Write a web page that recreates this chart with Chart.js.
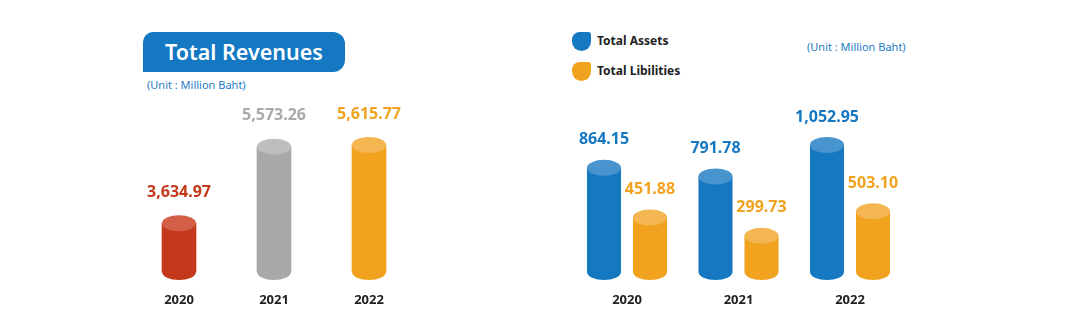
<!DOCTYPE html>
<html>
<head>
<meta charset="utf-8">
<script src="https://cdn.jsdelivr.net/npm/chart.js@4/dist/chart.umd.min.js"></script>
<style>
  html, body { margin: 0; padding: 0; background: #fff; overflow: hidden; }
  body { width: 1081px; height: 324px; position: relative; font-family: "Noto Sans", sans-serif; }
  canvas { position: absolute; top: 0; }
  .title { position: absolute; left: 143px; top: 32px; width: 202px; height: 40px; background: #1479c2;
           border-radius: 10px 12px 12px 0; color: #fff; font-size: 21.5px; font-weight: 600;
           line-height: 40px; text-align: center; }
  .unit { position: absolute; color: #1c7cc4; font-size: 11px; white-space: nowrap; }
  .leg { position: absolute; left: 572px; font-size: 12px; font-weight: 700; color: #222; white-space: nowrap; }
  .leg i { display: inline-block; width: 19px; height: 19px; border-radius: 8px 3px 10px 10px;
           vertical-align: middle; margin-right: 6px; }
</style>
</head>
<body>
<div class="title">Total Revenues</div>
<div class="unit" style="left:147px; top:77px;">(Unit : Million Baht)</div>
<div class="unit" style="left:807px; top:39px;">(Unit : Million Baht)</div>
<div class="leg" style="top:32px;"><i style="background:#1578c1"></i>Total Assets</div>
<div class="leg" style="top:62px;"><i style="background:#f1a31f"></i>Total Libilities</div>

<canvas id="revChart" width="540" height="324" style="left:0"></canvas>
<canvas id="balChart" width="541" height="324" style="left:540px"></canvas>

<script>
// data
const years = ["2020", "2021", "2022"];
const revenues = [3634.97, 5573.26, 5615.77];
const totalAssets = [864.15, 791.78, 1052.95];
const totalLiabilities = [451.88, 299.73, 503.10];

const fmt = v => v.toLocaleString("en-US", { minimumFractionDigits: 2, maximumFractionDigits: 2 });

// draws the round top/bottom of each bar plus the value above it
const cylinders = {
    id: "cylinders",
    afterDatasetsDraw(chart, args, opts) {
        const ctx = chart.ctx;
        chart.data.datasets.forEach((ds, di) => {
            chart.getDatasetMeta(di).data.forEach((bar, i) => {
                const body = Array.isArray(ds.backgroundColor) ? ds.backgroundColor[i] : ds.backgroundColor;
                const top = Array.isArray(ds.topColor) ? ds.topColor[i] : ds.topColor;
                const rx = bar.width / 2, ry = 8;
                const base = Math.min(bar.base, chart.chartArea.bottom);
                ctx.save();
                ctx.fillStyle = body;
                ctx.beginPath();
                ctx.ellipse(bar.x, base, rx, ry, 0, 0, Math.PI);
                ctx.fill();
                ctx.fillStyle = top;
                ctx.beginPath();
                ctx.ellipse(bar.x, bar.y, rx, ry, 0, 0, Math.PI * 2);
                ctx.fill();
                ctx.fillStyle = body;
                ctx.font = "bold 16px 'Noto Sans'";
                ctx.textAlign = "center";
                ctx.textBaseline = "middle";
                ctx.fillText(fmt(ds.data[i]), bar.x, bar.y - opts.offset);
                ctx.restore();
            });
        });
    }
};

const xAxis = {
    grid: { display: false, drawTicks: false },
    border: { display: false },
    ticks: { color: "#222", padding: 20, font: { family: "Noto Sans", size: 13, weight: "bold" } },
    afterFit: s => { s.height = 44; }
};

new Chart(document.getElementById("revChart"), {
    type: "bar",
    data: {
        labels: years,
        datasets: [{
            label: "Total Revenues",
            data: revenues,
            backgroundColor: ["#c4391c", "#a9a9ab", "#f1a31f"],
            topColor: ["#d45f47", "#bdbdbf", "#f4b651"],
            barThickness: 34
        }]
    },
    options: {
        responsive: false,
        animation: false,
        layout: { padding: { left: 131.5, right: 123.5, top: 129.8, bottom: 8 } },
        plugins: { legend: { display: false }, tooltip: { enabled: false }, cylinders: { offset: 31 } },
        scales: {
            x: xAxis,
            y: { display: false, min: 2400, max: 6000 }
        }
    },
    plugins: [cylinders]
});

new Chart(document.getElementById("balChart"), {
    type: "bar",
    data: {
        labels: years,
        datasets: [{
            label: "Total Assets",
            data: totalAssets,
            backgroundColor: "#1578c1",
            topColor: "#4794cf"
        }, {
            label: "Total Libilities",
            data: totalLiabilities,
            backgroundColor: "#f1a31f",
            topColor: "#f4b651"
        }]
    },
    options: {
        responsive: false,
        animation: false,
        categoryPercentage: 0.825,
        barPercentage: 0.74,
        layout: { padding: { left: 31.25, right: 175.25, top: 127.3, bottom: 8 } },
        plugins: { legend: { display: false }, tooltip: { enabled: false }, cylinders: { offset: 28 } },
        scales: {
            x: xAxis,
            y: { display: false, min: 0, max: 1200 }
        }
    },
    plugins: [cylinders]
});
</script>
</body>
</html>
